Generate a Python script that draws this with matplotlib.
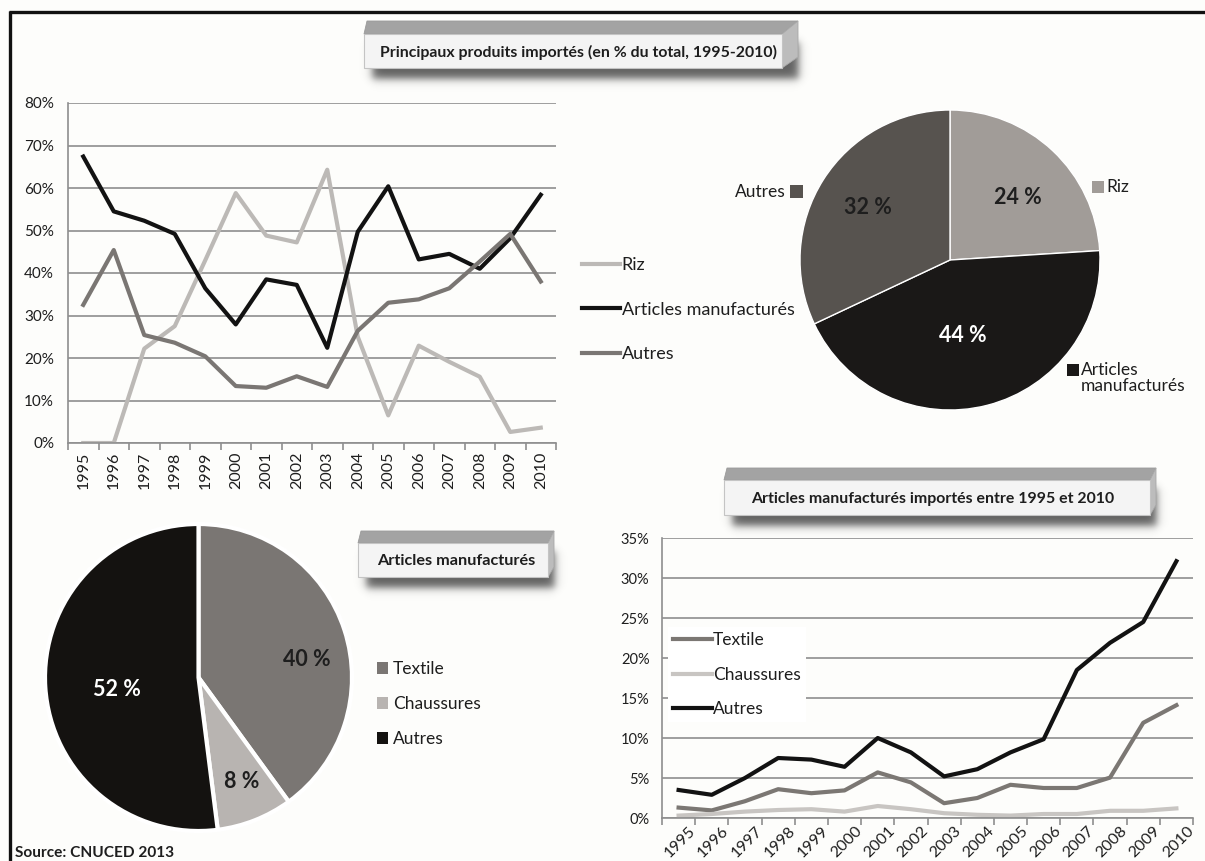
import numpy as np
import matplotlib
matplotlib.use("Agg")
import matplotlib.pyplot as plt
from matplotlib.patches import Polygon, Rectangle, Patch
from matplotlib.lines import Line2D
from matplotlib.transforms import ScaledTranslation

plt.rcParams['font.family'] = ['Lato', 'DejaVu Sans']

W, H = 1205, 861

# --- données ---
annees = list(range(1995, 2011))

# principaux produits importés (% du total)
riz = [0, 0, 22.2, 27.5, 43.0, 58.8, 48.8, 47.2, 64.3, 25.0, 6.5, 22.9, 19.1, 15.6, 2.6, 3.6]
articles = [67.4, 54.5, 52.3, 49.2, 36.4, 27.9, 38.5, 37.2, 22.4, 49.7, 60.4, 43.2, 44.5, 41.0, 48.2, 58.4]
autres = [32.5, 45.4, 25.4, 23.6, 20.4, 13.4, 13.0, 15.7, 13.2, 26.4, 33.0, 33.8, 36.4, 42.7, 49.2, 38.0]

# articles manufacturés importés
textile = [1.3, 0.95, 2.1, 3.6, 3.1, 3.45, 5.7, 4.45, 1.85, 2.5, 4.15, 3.75, 3.75, 5.05, 11.9, 14.1]
chaussures = [0.3, 0.5, 0.8, 1.0, 1.1, 0.8, 1.5, 1.1, 0.6, 0.4, 0.3, 0.5, 0.5, 0.9, 0.9, 1.2]
autres_manuf = [3.5, 2.9, 5.0, 7.5, 7.3, 6.4, 10.0, 8.2, 5.2, 6.1, 8.2, 9.85, 18.5, 21.9, 24.5, 32.1]

# parts moyennes
parts_import_noms = ['Riz', 'Articles manufacturés', 'Autres']
parts_import = [24, 44, 32]
parts_manuf_noms = ['Textile', 'Chaussures', 'Autres']
parts_manuf = [40, 8, 52]

GRIS_GRILLE = '#8e8e8e'
TXT = '#1e1e1e'


def px_rect(x0, y0, x1, y1):
    # rectangle en pixels (origine en haut à gauche) -> coordonnées figure
    return [x0 / W, 1 - y1 / H, (x1 - x0) / W, (y1 - y0) / H]


def style_axes(ax, ymax, ystep):
    n = len(annees)
    ax.set_xlim(-0.5, n - 0.5)
    ax.set_ylim(0, ymax)
    ax.set_yticks(np.arange(0, ymax + 1, ystep))
    ax.set_yticklabels([f"{v}%" for v in range(0, ymax + 1, ystep)])
    ax.set_xticks(np.arange(n))
    ax.set_xticklabels([str(a) for a in annees])
    ax.set_xticks(np.arange(-0.5, n), minor=True)
    ax.grid(axis='y', color=GRIS_GRILLE, lw=1.2)
    ax.set_axisbelow(True)
    for s in ['top', 'right']:
        ax.spines[s].set_visible(False)
    for s in ['left', 'bottom']:
        ax.spines[s].set_color(GRIS_GRILLE)
        ax.spines[s].set_linewidth(1.2)
    ax.tick_params(axis='x', which='minor', length=5, color=GRIS_GRILLE, width=1.2)
    ax.set_facecolor('none')


fig = plt.figure(figsize=(W / 100, H / 100), dpi=100)
fig.patch.set_facecolor('#fdfdfb')

# --- courbes : produits importés ---
ax1 = fig.add_axes(px_rect(68, 103, 556, 443))
x = np.arange(len(annees))
series1 = [(riz, 'Riz', '#bcb9b6'),
           (articles, 'Articles manufacturés', '#121212'),
           (autres, 'Autres', '#7a7673')]
for vals, nom, c in series1:
    ax1.plot(x, vals, color=c, lw=3, label=nom, solid_joinstyle='round')
style_axes(ax1, 80, 10)
ax1.tick_params(axis='y', length=0, pad=10, labelsize=11, labelcolor=TXT)
ax1.tick_params(axis='x', which='major', length=0, pad=6, labelsize=11.5,
                labelcolor=TXT, labelrotation=90)
fig.legend(*ax1.get_legend_handles_labels(), loc='upper left',
           bbox_to_anchor=(582 / W, 1 - 257 / H), frameon=False, borderpad=0,
           borderaxespad=0, handlelength=2.1, handletextpad=0.1,
           labelspacing=1.58, fontsize=13, labelcolor=TXT)

# --- courbes : articles manufacturés ---
ax3 = fig.add_axes(px_rect(662, 538, 1193, 818))
series3 = [(textile, 'Textile', '#7b7773'),
           (chaussures, 'Chaussures', '#c8c5c2'),
           (autres_manuf, 'Autres', '#121212')]
for vals, nom, c in series3:
    ax3.plot(x, vals, color=c, lw=3, label=nom, solid_joinstyle='round')
style_axes(ax3, 35, 5)
ax3.tick_params(axis='y', length=0, pad=9, labelsize=10.5, labelcolor=TXT)
ax3.tick_params(axis='x', which='major', length=0, pad=4, labelsize=11.5, labelcolor=TXT)
decal = ScaledTranslation(10 / 100, 0, fig.dpi_scale_trans)
for lab in ax3.get_xticklabels():
    lab.set_rotation(45)
    lab.set_ha('right')
    lab.set_va('top')
    lab.set_rotation_mode('anchor')
    lab.set_transform(lab.get_transform() + decal)
ax3.legend(loc='upper left', bbox_to_anchor=(668 / W, 1 - 627 / H),
           bbox_transform=fig.transFigure, frameon=True, facecolor='white',
           edgecolor='none', framealpha=1, fancybox=False, borderpad=0.3,
           borderaxespad=0, handlelength=2.25, handletextpad=0.05,
           labelspacing=1.06, fontsize=12.5, labelcolor=TXT)

# --- camembert : parts des importations ---
couleurs_import = ['#a19c98', '#1a1817', '#57534f']
axp1 = fig.add_axes(px_rect(800, 110, 1100, 410))
axp1.pie(parts_import, colors=couleurs_import, startangle=90, counterclock=False,
         wedgeprops=dict(edgecolor='white', linewidth=1))
axp1.set_xlim(-1, 1)
axp1.set_ylim(-1, 1)

# --- camembert : articles manufacturés ---
couleurs_manuf = ['#7a7673', '#b8b4b1', '#141210']
axp2 = fig.add_axes(px_rect(45, 524, 352, 831))
axp2.pie(parts_manuf, colors=couleurs_manuf, startangle=90, counterclock=False,
         wedgeprops=dict(edgecolor='white', linewidth=3))
axp2.set_xlim(-1, 1)
axp2.set_ylim(-1, 1)
poignees = [Patch(facecolor=c, edgecolor='none') for c in couleurs_manuf]
fig.legend(poignees, parts_manuf_noms, loc='upper left',
           bbox_to_anchor=(377 / W, 1 - 661 / H), frameon=False, borderpad=0,
           borderaxespad=0, handlelength=0.65, handleheight=0.65,
           handletextpad=0.25, labelspacing=1.09, fontsize=12.5, labelcolor=TXT)

# --- calque en pixels pour cadres, titres et étiquettes ---
ov = fig.add_axes([0, 0, 1, 1])
ov.axis('off')
renderer = fig.canvas.get_renderer()


def ajuster(txt, largeur):
    w = txt.get_window_extent(renderer).width
    txt.set_fontsize(txt.get_fontsize() * largeur / w)


def ombre(x0, y0, x1, y1, flou, alpha):
    pad = int(3 * flou)
    gx = np.arange(x0 - pad, x1 + pad + 1, dtype=float)
    gy = np.arange(y0 - pad, y1 + pad + 1, dtype=float)
    fx = 0.5 * (np.tanh((gx - x0) / flou) - np.tanh((gx - x1) / flou))
    fy = 0.5 * (np.tanh((gy - y0) / flou) - np.tanh((gy - y1) / flou))
    img = np.zeros((len(gy), len(gx), 4))
    img[..., :3] = 0.22
    img[..., 3] = np.outer(fy, fx) * alpha
    ov.imshow(img, extent=(gx[0], gx[-1], gy[-1], gy[0]), origin='upper',
              interpolation='bilinear', zorder=1)


def cadre_titre(x0, y0, x1, y1, dx, dy, texte, cx, largeur):
    ombre(x0 + 8, y0 + 8, x1 + dx + 1, y1 + 11, 5, 0.8)
    ov.add_patch(Polygon([(x0, y0), (x0 + 3, y0 - dy), (x1 + dx, y0 - dy), (x1, y0)],
                         closed=True, facecolor='#a3a3a3', edgecolor='#9a9a9a',
                         lw=0.6, zorder=2))
    ov.add_patch(Polygon([(x1, y0), (x1 + dx, y0 - dy), (x1 + dx, y1 - dy + 2), (x1, y1)],
                         closed=True, facecolor='#bcbcbc', edgecolor='#a8a8a8',
                         lw=0.6, zorder=2))
    ov.add_patch(Rectangle((x0, y0), x1 - x0, y1 - y0, facecolor='#f4f4f4',
                           edgecolor='#c4c4c4', lw=0.8, zorder=3))
    t = ov.text(cx, (y0 + y1) / 2 + 1, texte, ha='center', va='center',
                fontsize=11, fontweight='bold', color=TXT, zorder=4)
    ajuster(t, largeur)


cadre_titre(364, 34, 782, 68, 16, 13,
            'Principaux produits importés (en % du total, 1995-2010)', 579, 398)
cadre_titre(724, 480, 1150, 515, 6, 12,
            'Articles manufacturés importés entre 1995 et 2010', 933, 361)
cadre_titre(358, 543, 548, 577, 6, 12, 'Articles manufacturés', 456, 158)

# bordure haute et gauche
ov.add_line(Line2D([9, W], [12, 12], color='#111111', lw=2.4, zorder=5,
                   solid_capstyle='butt'))
ov.add_line(Line2D([10, 10], [11, H], color='#111111', lw=2.4, zorder=5,
                   solid_capstyle='butt'))

# valeurs des camemberts
pos_import = [(1018, 198, TXT), (963, 335, 'white'), (868, 208, TXT)]
for v, (px, py, c) in zip(parts_import, pos_import):
    ov.text(px, py, f"{v} %", ha='center', va='center', fontsize=15.5,
            fontweight='bold', color=c, zorder=6)
pos_manuf = [(307, 660, TXT), (242, 782, TXT), (117, 690, 'white')]
for v, (px, py, c) in zip(parts_manuf, pos_manuf):
    ov.text(px, py, f"{v} %", ha='center', va='center', fontsize=15.5,
            fontweight='bold', color=c, zorder=6)

# étiquettes de catégorie du premier camembert
ov.add_patch(Rectangle((1092, 181), 12, 12, facecolor=couleurs_import[0], zorder=6))
ov.text(1106, 187, parts_import_noms[0], ha='left', va='center', fontsize=12.5,
        color=TXT, zorder=6)
ov.add_patch(Rectangle((1067, 364), 12, 12, facecolor=couleurs_import[1], zorder=6))
ov.text(1081, 370, 'Articles', ha='left', va='center', fontsize=12.5, color=TXT, zorder=6)
ov.text(1081, 386, 'manufacturés', ha='left', va='center', fontsize=12.5, color=TXT, zorder=6)
ov.add_patch(Rectangle((790, 185), 13, 13, facecolor=couleurs_import[2], zorder=6))
ov.text(786, 192, parts_import_noms[2], ha='right', va='center', fontsize=12.5,
        color=TXT, zorder=6)

src = ov.text(15, 853, 'Source: CNUCED 2013', ha='left', va='center',
              fontsize=11, fontweight='bold', color=TXT, zorder=6)
ajuster(src, 158)

ov.set_xlim(0, W)
ov.set_ylim(H, 0)
ov.set_aspect('auto')

fig.savefig('out.png', dpi=100, facecolor=fig.get_facecolor())
